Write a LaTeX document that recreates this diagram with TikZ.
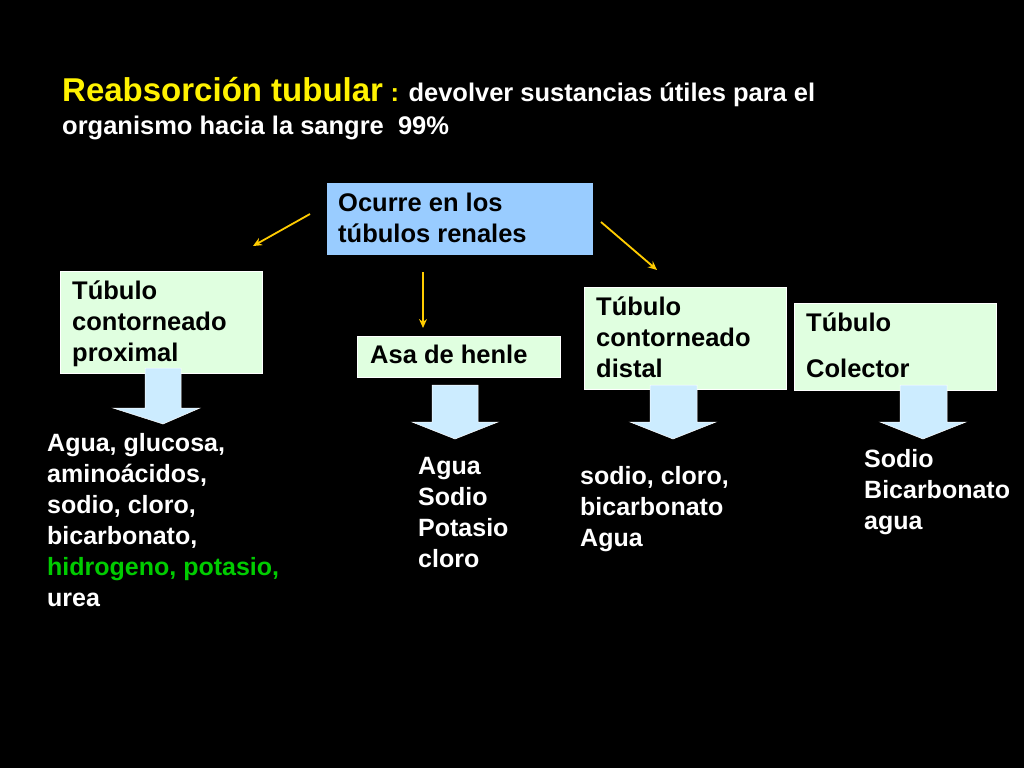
\documentclass[tikz,border=0pt]{standalone}
\usepackage{fontspec}
\setmainfont{Liberation Sans}
\begin{document}
\begin{tikzpicture}[x=1pt,y=-1pt,
  list/.style={anchor=north west,align=left,inner sep=0pt,text=white,font=\bfseries\fontsize{25}{31}\selectfont},
  bt/.style={list,text=black,font=\bfseries\fontsize{25.5}{31}\selectfont},
  ya/.style={draw={rgb,255:red,255;green,204;blue,0},line width=1.8pt,-{Stealth[length=9pt,width=8pt]}},
  gbox/.style={fill={rgb,255:red,224;green,255;blue,224},draw=white},
  blk/.style={fill={rgb,255:red,204;green,236;blue,255},draw=white,line width=0.5pt}]
\usetikzlibrary{arrows.meta}
\fill[black] (0,0) rectangle (1024,768);
\useasboundingbox (0,0) rectangle (1024,768);
\node[anchor=base west,inner sep=0pt,text=yellow,font=\bfseries\fontsize{33}{36}\selectfont] (t1) at (62,101) {Reabsorción tubular};
\node[anchor=base west,inner sep=0pt,text=white,font=\bfseries\fontsize{25.5}{28}\selectfont] (t2) at (t1.base east) {\ \textcolor{yellow}{:} devolver sustancias útiles para el};
\node[anchor=base west,inner sep=0pt,text=white,font=\bfseries\fontsize{25.5}{28}\selectfont] (t3) at (62,134) {organismo hacia la sangre\ \ 99\%};
% boxes
\path[fill={rgb,255:red,153;green,204;blue,255}] (327,183) rectangle (593,255);
\node[bt] (oc) at (338,193) {Ocurre en los\\túbulos renales};
\path[gbox] (60,271) rectangle (262,373);
\node[bt] (px) at (72,281) {Túbulo\\contorneado\\proximal};
\path[gbox] (357,336) rectangle (560,377);
\node[bt] (as) at (370,345) {Asa de henle};
\path[gbox] (584,287) rectangle (786,389);
\node[bt] (ds) at (596,297) {Túbulo\\contorneado\\distal};
\path[gbox] (794,303) rectangle (996,390);
\node[bt,font=\bfseries\fontsize{25.5}{46}\selectfont] (co) at (806,313) {Túbulo\\Colector};
% yellow arrows
\coordinate (a1s) at (310,214); \coordinate (a1e) at (253,246);
\coordinate (a2s) at (423,272); \coordinate (a2e) at (423,328);
\coordinate (a3s) at (601,222); \coordinate (a3e) at (657,270);
\draw[ya] (a1s) -- (a1e);
\draw[ya] (a2s) -- (a2e);
\draw[ya] (a3s) -- (a3e);
% block arrows
\draw[blk] (145,368) -- (181,368) -- (181,408) -- (200,408) -- (163,424) -- (113,408) -- (145,408) -- cycle;
\draw[blk] (432,385) -- (478,385) -- (478,422) -- (498,422) -- (455,439) -- (412,422) -- (432,422) -- cycle;
\draw[blk] (650,385) -- (697,385) -- (697,422) -- (716,422) -- (673,439) -- (630,422) -- (650,422) -- cycle;
\draw[blk] (900,385) -- (947,385) -- (947,422) -- (966,422) -- (923,439) -- (880,422) -- (900,422) -- cycle;
% lists
\node[list] (l1) at (47,433) {Agua, glucosa,\\aminoácidos,\\sodio, cloro,\\bicarbonato,\\\textcolor[rgb]{0,0.8,0}{hidrogeno, potasio,}\\urea};
\node[list] (l2) at (418,457) {Agua\\Sodio\\Potasio\\cloro};
\node[list] (l3) at (580,466) {sodio, cloro,\\bicarbonato\\Agua};
\node[list] (l4) at (864,449) {Sodio\\Bicarbonato\\agua};
\end{tikzpicture}
\end{document}
